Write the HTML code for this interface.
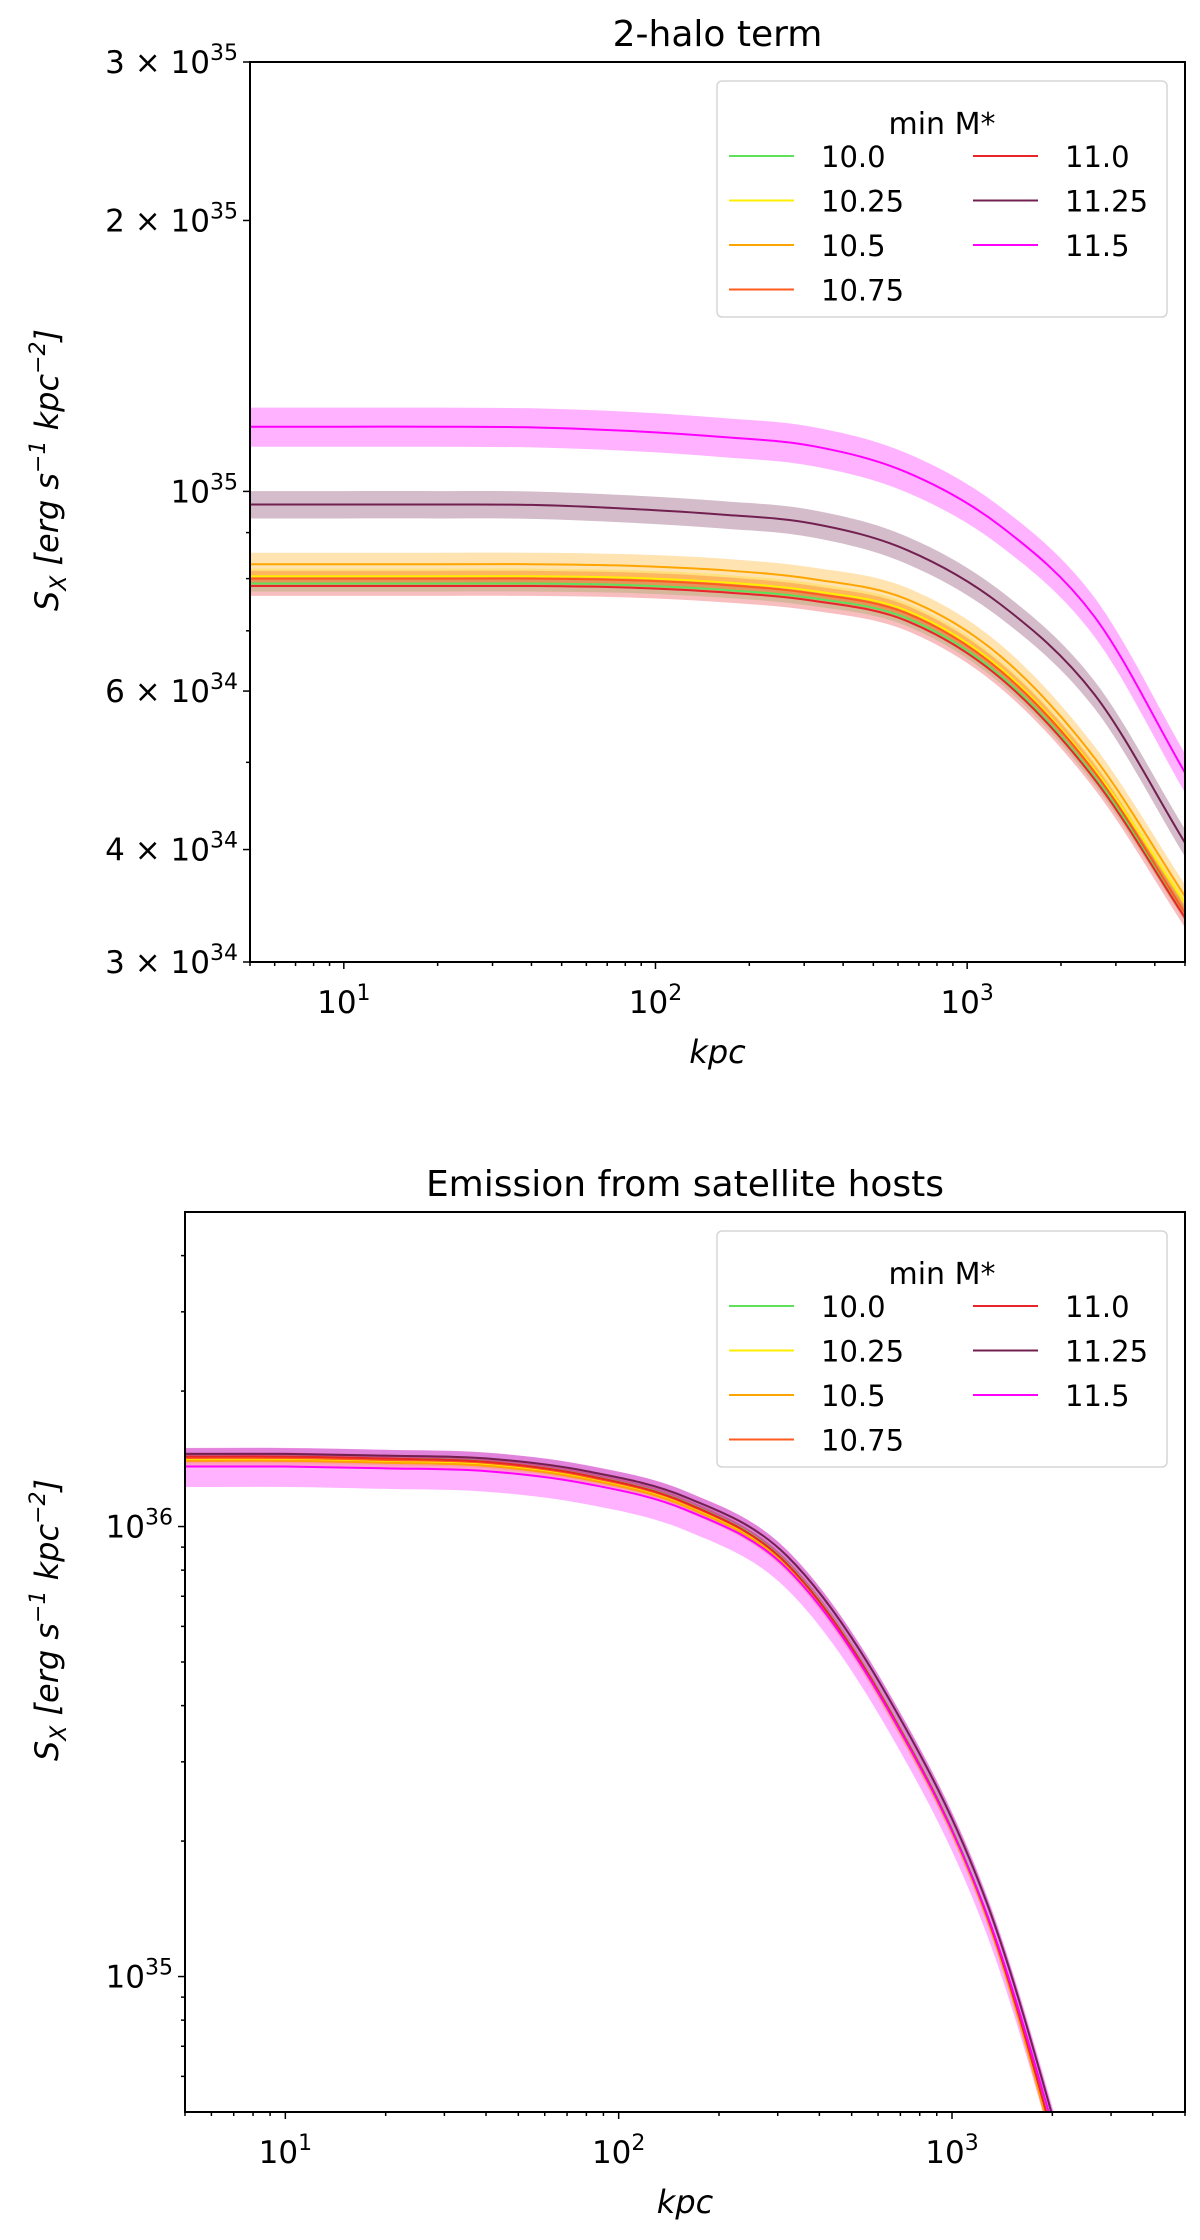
<!DOCTYPE html>
<html><head><meta charset="utf-8"><style>
html,body{margin:0;padding:0;background:#fff;width:1200px;height:2240px;overflow:hidden;position:relative;}
svg{position:absolute;left:0;top:0;display:block;font-family:"DejaVu Sans","Liberation Sans",sans-serif;}
</style></head><body>
<svg id="fig" width="1200" height="2240" viewBox="0 0 1200 2240" xmlns="http://www.w3.org/2000/svg"></svg>
<script>
const radii = [5,10,20,40,80,160,320,640,1280,2560,5000];
const seriesLabels = ["10.0","10.25","10.5","10.75","11.0","11.25","11.5"];
const seriesColors = ["#5ee05a","#ffee00","#ffa500","#ff5a1f","#e8262a","#722050","#ff00ff"];
// top panel (units 1e34)
const top100 = [7.9,7.9,7.9,7.9,7.87,7.78,7.61,7.23,6.24,4.82,3.40];
const top1025 = [8.05,8.05,8.05,8.05,8.02,7.93,7.75,7.37,6.36,4.91,3.49];
const top105 = [8.3,8.3,8.3,8.3,8.27,8.18,7.99,7.59,6.56,5.06,3.55];
const top1075 = [8.0,8.0,8.0,8.0,7.97,7.88,7.70,7.32,6.32,4.88,3.40];
const top110 = [7.85,7.85,7.85,7.85,7.82,7.73,7.56,7.18,6.20,4.79,3.36];
const top1125 = [9.67,9.67,9.67,9.66,9.57,9.43,9.21,8.61,7.49,5.95,4.07];
const top115 = [11.8,11.8,11.8,11.78,11.68,11.5,11.23,10.50,9.15,7.26,4.87];
const topErr = [0.02,0.02,0.03,0.02,0.025,0.035,0.05];
// bottom panel (units 1e35)
const bot100 = [14.3,14.3,14.16,13.94,13.01,11.30,8.29,4.00,1.36,0.23,0.04];
const bot1025 = [14.1,14.1,13.96,13.75,12.83,11.14,8.18,3.95,1.34,0.23,0.04];
const bot105 = [14.0,14.0,13.86,13.65,12.74,11.06,8.12,3.92,1.33,0.22,0.04];
const bot1075 = [14.2,14.2,14.06,13.85,12.92,11.22,8.24,3.98,1.35,0.23,0.04];
const bot110 = [14.3,14.3,14.16,13.93,12.99,11.27,8.26,3.98,1.35,0.23,0.04];
const bot1125 = [14.5,14.5,14.37,14.17,13.28,11.60,8.60,4.20,1.44,0.26,0.05];
const bot115 = [13.6,13.6,13.47,13.28,12.45,10.87,8.06,3.94,1.36,0.25,0.05];
const botErr = [0.02,0.02,0.025,0.02,0.02,0.03,0.1];
const topTicks = [[3e34,"3 × 10","34"],[4e34,"4 × 10","34"],[6e34,"6 × 10","34"],[1e35,"10","35"],[2e35,"2 × 10","35"],[3e35,"3 × 10","35"]];
const botTicks = [[1e35,"10","35"],[1e36,"10","36"]];
const xTicks = [[10,"1"],[100,"2"],[1000,"3"]];

const NS="http://www.w3.org/2000/svg";
const svg=document.getElementById('fig');
function el(tag,attrs,parent){const e=document.createElementNS(NS,tag);for(const k in attrs)e.setAttribute(k,attrs[k]);(parent||svg).appendChild(e);return e;}

function smooth(pts){
  const n=pts.length, m=[];
  for(let i=0;i<n;i++){
    const a=pts[Math.max(0,i-1)], b=pts[Math.min(n-1,i+1)];
    m.push((b[1]-a[1])/(b[0]-a[0]));
  }
  let d='M'+pts[0][0].toFixed(2)+','+pts[0][1].toFixed(2);
  for(let i=0;i<n-1;i++){
    const p1=pts[i],p2=pts[i+1],dx=(p2[0]-p1[0])/3;
    d+=' C'+(p1[0]+dx).toFixed(2)+','+(p1[1]+m[i]*dx).toFixed(2)+' '+(p2[0]-dx).toFixed(2)+','+(p2[1]-m[i+1]*dx).toFixed(2)+' '+p2[0].toFixed(2)+','+p2[1].toFixed(2);
  }
  return d;
}

function panel(cfg){
  const {L,R,T,B,xmin,xmax,ymin,ymax,title,series,errs,scale,yticks,minor,name}=cfg;
  const g=el('g',{});
  
  
  const X=v=>L+(Math.log10(v)-Math.log10(xmin))/(Math.log10(xmax)-Math.log10(xmin))*(R-L);
  const Y=v=>B-(Math.log10(v)-Math.log10(ymin))/(Math.log10(ymax)-Math.log10(ymin))*(B-T);
  const cid='clip-'+name;
  const cp=el('clipPath',{id:cid},g);el('rect',{x:L,y:T,width:R-L,height:B-T},cp);
  const plot=el('g',{'clip-path':'url(#'+cid+')'},g);
  series.forEach((vals,i)=>{
    const up=radii.map((r,j)=>[X(r),Y(vals[j]*scale*(1+errs[i]))]);
    const lo=radii.map((r,j)=>[X(r),Y(vals[j]*scale*(1-errs[i]))]).reverse();
    const band=el('path',{d:smooth(up)+' L'+smooth(lo).slice(1)+' Z',fill:seriesColors[i],'fill-opacity':0.3,stroke:'none'},plot);
    
    
  });
  series.forEach((vals,i)=>{
    const pts=radii.map((r,j)=>[X(r),Y(vals[j]*scale)]);
    const ln=el('path',{d:smooth(pts),fill:'none',stroke:seriesColors[i],'stroke-width':2},plot);
    
    
  });
  for(let e=0;e<4;e++)for(let mm=1;mm<10;mm++){const v=mm*Math.pow(10,e);if(v<xmin||v>xmax)continue;
    el('line',{x1:X(v),x2:X(v),y1:B,y2:B+(mm===1?7:4),stroke:'#000','stroke-width':1.5},g);}
  xTicks.forEach(t=>{const tx=el('text',{x:X(t[0]),y:B+51,'font-size':31,'text-anchor':'middle'},g);
    
    
    tx.innerHTML='10<tspan dy="-13" font-size="22">'+t[1]+'</tspan>';});
  minor.forEach(v=>el('line',{x1:L,x2:L-4,y1:Y(v),y2:Y(v),stroke:'#000','stroke-width':1.5},g));
  yticks.forEach(t=>{el('line',{x1:L,x2:L-7,y1:Y(t[0]),y2:Y(t[0]),stroke:'#000','stroke-width':1.5},g);
    const tx=el('text',{x:L-12,y:Y(t[0])+11,'font-size':31,'text-anchor':'end'},g);
    
    
    tx.innerHTML=t[1]+'<tspan dy="-13" font-size="22">'+t[2]+'</tspan><tspan dy="13" font-size="2"> </tspan>';});
  el('rect',{x:L,y:T,width:R-L,height:B-T,fill:'none',stroke:'#000','stroke-width':2},g);
  const tt=el('text',{x:(L+R)/2,y:T-16,'font-size':36,'text-anchor':'middle'},g);
  
  
  tt.textContent=title;
  const xl=el('text',{x:(L+R)/2,y:B+101,'font-size':32,'text-anchor':'middle','font-style':'italic'},g);
  
  
  xl.textContent='kpc';
  const yc=T+408;
  const yl=el('text',{x:0,y:0,'font-size':32,'text-anchor':'middle','font-style':'italic',transform:'translate(58,'+yc+') rotate(-90)'},g);
  
  
  yl.innerHTML='S<tspan dy="8" font-size="22">X</tspan><tspan dy="-8"> [erg s</tspan><tspan dy="-13" font-size="22">−1</tspan><tspan dy="13"> kpc</tspan><tspan dy="-13" font-size="22">−2</tspan><tspan dy="13">]</tspan>';
  const lg=el('g',{},g);
  
  
  const lx=717,ly=T+19;
  el('rect',{x:lx,y:ly,width:450,height:236,rx:5,fill:'#fff','fill-opacity':0.8,stroke:'#d6d6d6','stroke-width':1.5},lg);
  el('text',{x:lx+225,y:ly+53,'font-size':30,'text-anchor':'middle'},lg).textContent='min M*';
  seriesLabels.forEach((s,i)=>{const col=i<4?0:1,row=i<4?i:i-4;
    const ex=lx+12+col*244,ey=ly+75+row*44.5;
    const ent=el('g',{},lg);
    
    
    el('line',{x1:ex,x2:ex+65,y1:ey,y2:ey,stroke:seriesColors[i],'stroke-width':2},ent);
    el('text',{x:ex+92,y:ey+11,'font-size':29},ent).textContent=s;});
}
const topMinor=[5e34,7e34,8e34,9e34];
panel({name:'two-halo-panel',L:250,R:1185,T:62,B:962,xmin:5,xmax:5000,ymin:3e34,ymax:3e35,title:'2-halo term',
  series:[top100,top1025,top105,top1075,top110,top1125,top115],errs:topErr,scale:1e34,yticks:topTicks,minor:topMinor});
const botMinor=[6e34,7e34,8e34,9e34,2e35,3e35,4e35,5e35,6e35,7e35,8e35,9e35,2e36,3e36,4e36];
panel({name:'satellite-panel',L:185,R:1185,T:1212,B:2112,xmin:5,xmax:5000,ymin:5e34,ymax:5e36,title:'Emission from satellite hosts',
  series:[bot100,bot1025,bot105,bot1075,bot110,bot1125,bot115],errs:botErr,scale:1e35,yticks:botTicks,minor:botMinor});
</script>
</body></html>
